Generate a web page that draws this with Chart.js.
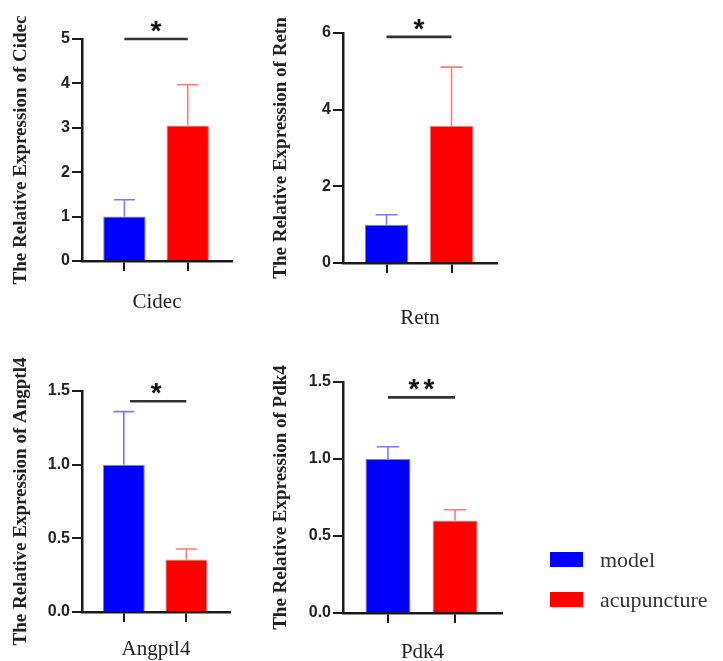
<!DOCTYPE html>
<html>
<head>
<meta charset="utf-8">
<script src="https://cdn.jsdelivr.net/npm/chart.js@4.4.1/dist/chart.umd.min.js"></script>
<style>
  html, body { margin: 0; padding: 0; background: #fff; overflow: hidden; }
  #wrap { position: relative; width: 723px; height: 661px; overflow: hidden; }
  #wrap canvas { position: absolute; left: 0; top: 0; }
  .lg-row { position: absolute; left: 550px; height: 22px; line-height: 22px;
            font-family: "Liberation Serif", "Times New Roman", serif; font-size: 22px; color: #333; }
  .lg-sw { position: absolute; left: 0; top: 3px; width: 33px; height: 15px; }
  .lg-tx { position: absolute; left: 50px; top: 0; white-space: nowrap; }
</style>
</head>
<body>
<div id="wrap">
  <canvas id="c0" width="723" height="700"></canvas>
  <canvas id="c1" width="723" height="700"></canvas>
  <canvas id="c2" width="723" height="700"></canvas>
  <canvas id="c3" width="723" height="700"></canvas>
</div>
<script>
// ── Data ─────────────────────────────────────────────────────────
const groups = ["model", "acupuncture"];
const groupColors = ["#0000ff", "#ff0000"];
const errorColors = ["#7a7aff", "#ff7a7a"];

const genes = ["Cidec", "Retn", "Angptl4", "Pdk4"];
const cidecMean = [1.0, 3.05];
const cidecSem = [0.38, 0.92];
const retnMean = [1.0, 3.58];
const retnSem = [0.26, 1.53];
const angptl4Mean = [1.0, 0.356];
const angptl4Sem = [0.36, 0.072];
const pdk4Mean = [1.0, 0.60];
const pdk4Sem = [0.08, 0.07];

const yMax = [5, 6, 1.5, 1.5];
const yStep = [1, 2, 0.5, 0.5];
const sigStars = ["*", "*", "*", "**"];
const sigLevel = [5.0, 5.9, 1.43, 1.40];
const sigFrom = [0, 0, 0.1, 0];

const means = [cidecMean, retnMean, angptl4Mean, pdk4Mean];
const sems = [cidecSem, retnSem, angptl4Sem, pdk4Sem];

// ── Panel placement (page pixels) ────────────────────────────────
const PANELS = [
  { ox: 0,   area: [82, 39, 232, 261],  labelY: 302 },
  { ox: 260, area: [343, 33, 497, 263], labelY: 318 },
  { ox: 0,   area: [82, 391, 230, 612], labelY: 649 },
  { ox: 260, area: [343, 382, 502, 613], labelY: 652 },
];
const CW = 723, CH = 700;
const INK = "#1a1a1a";
const TITLE_FONT = 19, LABEL_FONT = 21;

// ── Error bars + significance bracket ───────────────────────────
const annotate = {
  id: "annotate",
  afterDraw(chart, args, opts) {
    const i = opts.panel;
    const ctx = chart.ctx;
    const xs = chart.scales.x, ys = chart.scales.y;
    const meta = chart.getDatasetMeta(0);
    ctx.save();
    // error bars (upper only)
    meta.data.forEach((bar, j) => {
      const top = ys.getPixelForValue(means[i][j] + sems[i][j]);
      const half = bar.width / 4;
      ctx.strokeStyle = errorColors[j];
      ctx.lineWidth = 1.6;
      ctx.beginPath();
      ctx.moveTo(bar.x, bar.y);
      ctx.lineTo(bar.x, top);
      ctx.moveTo(bar.x - half, top);
      ctx.lineTo(bar.x + half, top);
      ctx.stroke();
    });
    // bracket
    const y = ys.getPixelForValue(sigLevel[i]);
    const x1 = xs.getPixelForValue(sigFrom[i]);
    const x2 = xs.getPixelForValue(1);
    ctx.strokeStyle = "#333";
    ctx.lineWidth = 2.6;
    ctx.beginPath();
    ctx.moveTo(x1, y);
    ctx.lineTo(x2, y);
    ctx.stroke();
    // stars
    ctx.fillStyle = "#111";
    ctx.font = "bold 28px 'Liberation Sans', Arial, sans-serif";
    ctx.textAlign = "center";
    ctx.textBaseline = "alphabetic";
    const n = sigStars[i].length;
    const mid = (x1 + x2) / 2 + (i === 2 ? -2 : 0);
    for (let k = 0; k < n; k++) {
      const cx = mid + (k - (n - 1) / 2) * 15;
      ctx.fillText("*", cx, y + 1);
    }
    ctx.restore();
  }
};

// ── Build one panel ──────────────────────────────────────────────
function makePanel(i) {
  const p = PANELS[i];
  const [l, t, r, b] = p.area;
  const xH = p.labelY - b + LABEL_FONT * 1.2 / 2;
  const ctx = document.getElementById("c" + i).getContext("2d");
  return new Chart(ctx, {
    type: "bar",
    data: {
      datasets: [{
        data: means[i].map((v, j) => ({ x: j, y: v })),
        backgroundColor: groupColors,
        borderColor: errorColors,
        borderWidth: 1,
        barPercentage: 0.67,
        categoryPercentage: 1,
      }],
    },
    options: {
      responsive: false,
      animation: false,
      events: [],
      layout: { padding: { left: p.ox, top: t, right: CW - r, bottom: CH - b - xH } },
      plugins: { legend: { display: false }, tooltip: { enabled: false }, annotate: { panel: i } },
      scales: {
        x: {
          type: "linear",
          min: -0.67,
          max: 1.7,
          offset: false,
          afterBuildTicks: s => { s.ticks = groups.map((g, j) => ({ value: j })); },
          afterFit: s => { s.height = xH; },
          ticks: { display: false },
          grid: { offset: false, drawOnChartArea: false, drawTicks: true, tickLength: 10, lineWidth: 2, color: INK },
          border: { display: true, width: 2.5, color: INK },
          title: {
            display: true, text: genes[i], color: "#222", padding: 0,
            font: { family: "'Liberation Serif', 'Times New Roman', serif", size: LABEL_FONT, lineHeight: 1.2 },
          },
        },
        y: {
          min: 0,
          max: yMax[i],
          afterFit: s => { s.width = l - p.ox; },
          ticks: {
            stepSize: yStep[i],
            padding: 2,
            color: "#222",
            font: { family: "'Liberation Sans', Arial, sans-serif", size: 16, weight: "bold" },
            callback: v => (yStep[i] < 1 ? v.toFixed(1) : v),
          },
          grid: { drawOnChartArea: false, drawTicks: true, tickLength: 10, lineWidth: 2, color: INK },
          border: { display: true, width: 2.5, color: INK },
          title: {
            display: true, text: "The Relative Expression of " + genes[i], color: "#222",
            padding: { top: 21.5 - TITLE_FONT * 1.2 / 2, bottom: 0 },
            font: { family: "'Liberation Serif', 'Times New Roman', serif", size: TITLE_FONT, weight: "bold", lineHeight: 1.2 },
          },
        },
      },
    },
    plugins: [annotate],
  });
}

genes.forEach((g, i) => makePanel(i));

// ── Legend ───────────────────────────────────────────────────────
const legendTop = [549, 589];
groups.forEach((g, j) => {
  const row = document.createElement("div");
  row.className = "lg-row";
  row.style.top = legendTop[j] + "px";
  row.innerHTML = `<span class="lg-sw" style="background:${groupColors[j]}"></span><span class="lg-tx">${g}</span>`;
  document.getElementById("wrap").appendChild(row);
});
</script>
</body>
</html>
